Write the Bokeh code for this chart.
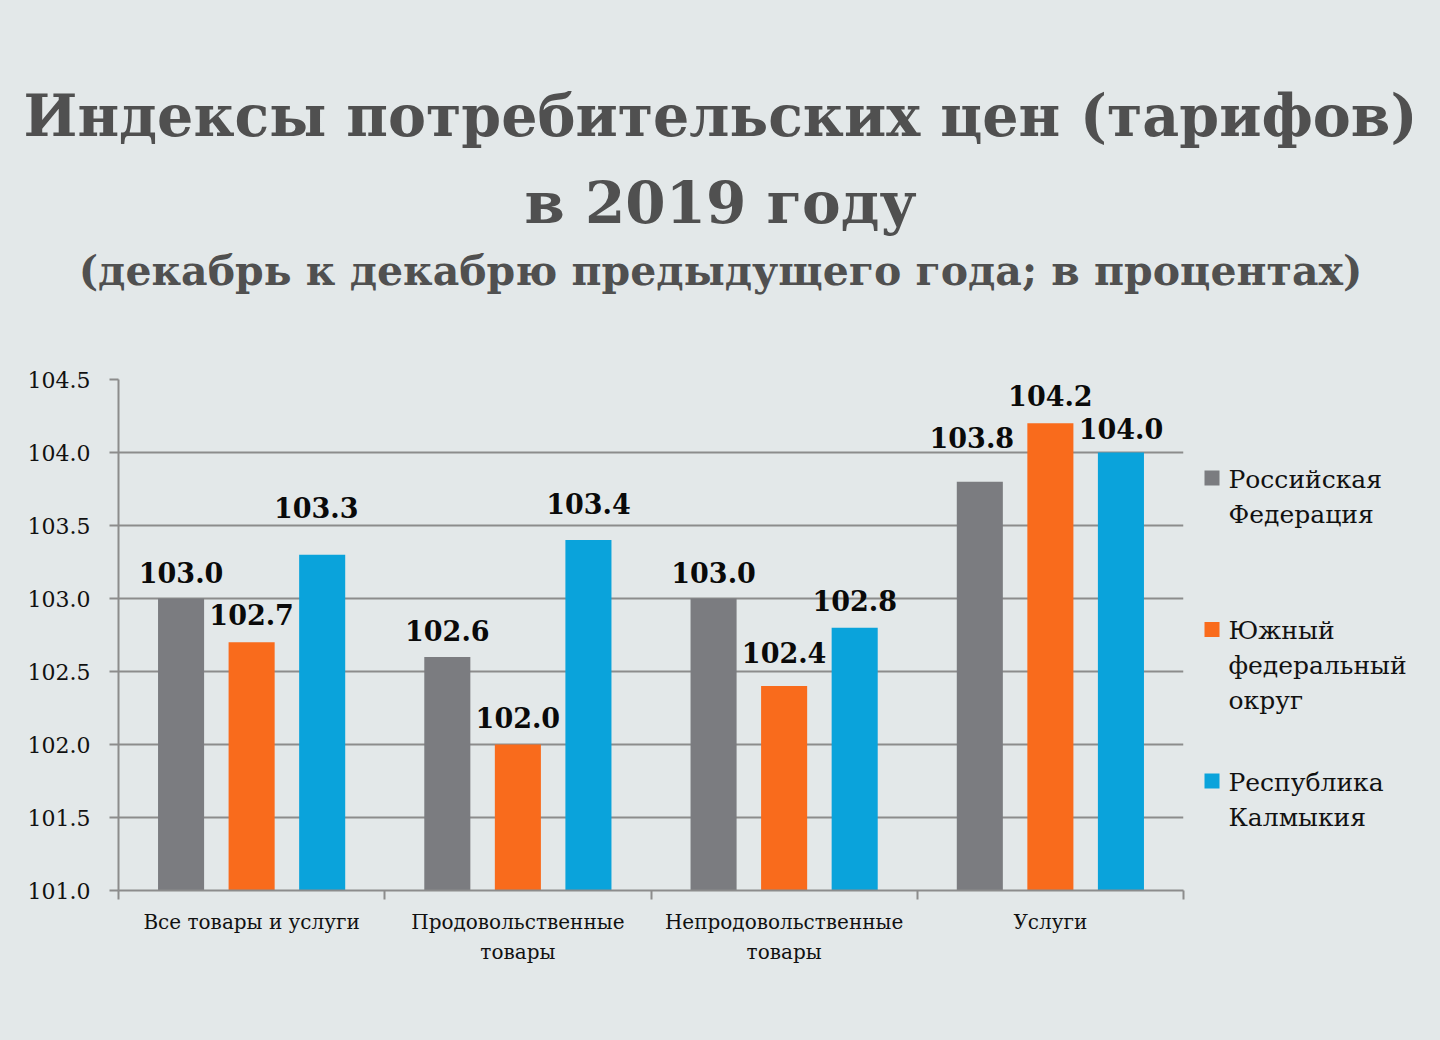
from bokeh.plotting import figure
from bokeh.layouts import column, row
from bokeh.models import Range1d, FixedTicker, LabelSet, ColumnDataSource
from bokeh.core.properties import value
from bokeh.embed import file_html
from bokeh.resources import INLINE

# ---------------- data ----------------
categories = ["Все товары и услуги", "Продовольственные\nтовары",
              "Непродовольственные\nтовары", "Услуги"]
series_names = ["Российская\nФедерация", "Южный\nфедеральный\nокруг", "Республика\nКалмыкия"]
rf_values = [103.0, 102.6, 103.0, 103.8]
ufo_values = [102.7, 102.0, 102.4, 104.2]
kalm_values = [103.3, 103.4, 102.8, 104.0]
y_ticks = [101.0, 101.5, 102.0, 102.5, 103.0, 103.5, 104.0, 104.5]
title_lines = ["Индексы потребительских цен (тарифов)",
               "в 2019 году",
               "(декабрь к декабрю предыдущего года; в процентах)"]

# ---------------- style ----------------
colors = ["#7b7c80", "#f96b1c", "#0aa3db"]
BG = "#e3e8e9"
AXIS = "#8c8c8c"
TITLE_C = "#505050"
TXT = "#111111"
SERIF = "DejaVu Serif"

# value-label nudges in screen px (the original labels were placed by hand)
label_dy = [[16, 16, 16, 34], [17, 17, 23, 17], [37, 26, 17, 14]]
label_dx = [[0, 0, 0, -8], [0, 0, 0, 0], [-6, 0, 0, 0]]

PAGE_W, PAGE_H = 1440, 1040
TOP_H = 330            # title band height
CHART_W = 1190         # chart figure width
LEG_W = PAGE_W - CHART_W
LOW_H = PAGE_H - TOP_H
FL, FR, FT, FB = 118, 1183, 379, 890   # chart frame edges, page px


def blank_fig(w, h, x_range, y_range, top=0, bottom=0):
    f = figure(width=w, height=h, x_range=x_range, y_range=y_range,
               output_backend="svg", toolbar_location=None,
               x_axis_location=None, y_axis_location=None,
               min_border_left=0, min_border_right=0,
               min_border_top=top, min_border_bottom=bottom)
    f.background_fill_color = BG
    f.border_fill_color = BG
    f.outline_line_color = None
    f.grid.visible = False
    return f


# ---------------- title band (page px coords) ----------------
tf = blank_fig(PAGE_W, TOP_H, Range1d(0, PAGE_W), Range1d(TOP_H, 0))
title_sizes = ["57px", "58px", "41px"]
title_base = [135, 222, 284]
for t, s, b in zip(title_lines, title_sizes, title_base):
    src = ColumnDataSource(dict(x=[PAGE_W / 2], y=[b], t=[t]))
    tf.add_layout(LabelSet(x="x", y="y", text="t", source=src,
                           text_align="center", text_baseline="alphabetic",
                           text_font=value(SERIF), text_font_style="bold",
                           text_font_size=value(s), text_color=TITLE_C))

# ---------------- chart ----------------
p = figure(width=CHART_W, height=LOW_H, x_range=Range1d(0, len(categories)),
           y_range=Range1d(y_ticks[0], y_ticks[-1]),
           output_backend="svg", toolbar_location=None,
           min_border_left=FL, min_border_right=CHART_W - FR,
           min_border_top=FT - TOP_H, min_border_bottom=PAGE_H - FB)
p.background_fill_color = BG
p.border_fill_color = BG
p.outline_line_color = None

p.xgrid.visible = False
p.ygrid.grid_line_color = AXIS
p.ygrid.grid_line_width = 2
p.ygrid.ticker = FixedTicker(ticks=y_ticks)

p.yaxis.ticker = FixedTicker(ticks=y_ticks)
p.yaxis.major_label_overrides = {t: f"{t:.1f}" for t in y_ticks}
p.yaxis.axis_line_color = AXIS
p.yaxis.axis_line_width = 2
p.yaxis.major_tick_line_color = AXIS
p.yaxis.major_tick_line_width = 2
p.yaxis.major_tick_out = 9
p.yaxis.major_tick_in = 0
p.yaxis.minor_tick_line_color = None
p.yaxis.major_label_standoff = 19
p.yaxis.major_label_text_font = SERIF
p.yaxis.major_label_text_font_size = "22px"
p.yaxis.major_label_text_color = TXT

centers = [i + 0.5 for i in range(len(categories))]
bounds = [float(i) for i in range(len(categories) + 1)]
p.xaxis.ticker = FixedTicker(ticks=centers, minor_ticks=bounds)
p.xaxis.major_label_overrides = {c: lab for c, lab in zip(centers, categories)}
p.xaxis.axis_line_color = AXIS
p.xaxis.axis_line_width = 2
p.xaxis.major_tick_line_color = None
p.xaxis.minor_tick_line_color = AXIS
p.xaxis.minor_tick_line_width = 2
p.xaxis.minor_tick_out = 9
p.xaxis.minor_tick_in = 0
p.xaxis.major_label_standoff = 10
p.xaxis.major_label_text_font = SERIF
p.xaxis.major_label_text_font_size = "20px"
p.xaxis.major_label_text_color = TXT
p.xaxis.major_label_text_line_height = 1.25

dodge = [-0.265, 0.0, 0.265]
bar_w = 0.173
all_values = [rf_values, ufo_values, kalm_values]
for k, vals in enumerate(all_values):
    xs = [c + dodge[k] for c in centers]
    src = ColumnDataSource(dict(x=xs, top=vals, lab=[f"{v:.1f}" for v in vals],
                                dx=label_dx[k], dy=label_dy[k]))
    p.vbar(x="x", top="top", bottom=y_ticks[0], width=bar_w, source=src,
           fill_color=colors[k], line_color=None)
    p.add_layout(LabelSet(x="x", y="top", text="lab", source=src,
                          x_offset="dx", y_offset="dy",
                          text_align="center", text_baseline="alphabetic",
                          text_font=value(SERIF), text_font_style="bold",
                          text_font_size=value("27px"), text_color="#0a0a0a"))

# ---------------- legend (frame aligned with the chart frame; page px coords) ----------------
lf = blank_fig(LEG_W, LOW_H, Range1d(CHART_W, PAGE_W), Range1d(FB, FT),
               top=FT - TOP_H, bottom=PAGE_H - FB)
SQ_X = 1211.5
TX_X = 1228
ITEM_STEP = 151.5
LINE_STEP = 35
sq_y, sq_c = [], []
tx_x, tx_y, tx_t = [], [], []
for k, name in enumerate(series_names):
    sq_y.append(477.5 + k * ITEM_STEP)
    sq_c.append(colors[k])
    for j, line in enumerate(name.split("\n")):
        tx_x.append(TX_X)
        tx_y.append(487 + k * ITEM_STEP + j * LINE_STEP)
        tx_t.append(line)
lf.rect(x=[SQ_X] * len(sq_y), y=sq_y, width=15, height=15, fill_color=sq_c, line_color=None)
lsrc = ColumnDataSource(dict(x=tx_x, y=tx_y, t=tx_t))
lf.add_layout(LabelSet(x="x", y="y", text="t", source=lsrc,
                       text_align="left", text_baseline="alphabetic",
                       text_font=value(SERIF), text_font_size=value("25px"),
                       text_color=TXT))

bottom_row = row(p, lf, styles={"background-color": BG})
layout = column(tf, bottom_row, styles={"background-color": BG})
open("out.html", "w").write(file_html(layout, INLINE))
